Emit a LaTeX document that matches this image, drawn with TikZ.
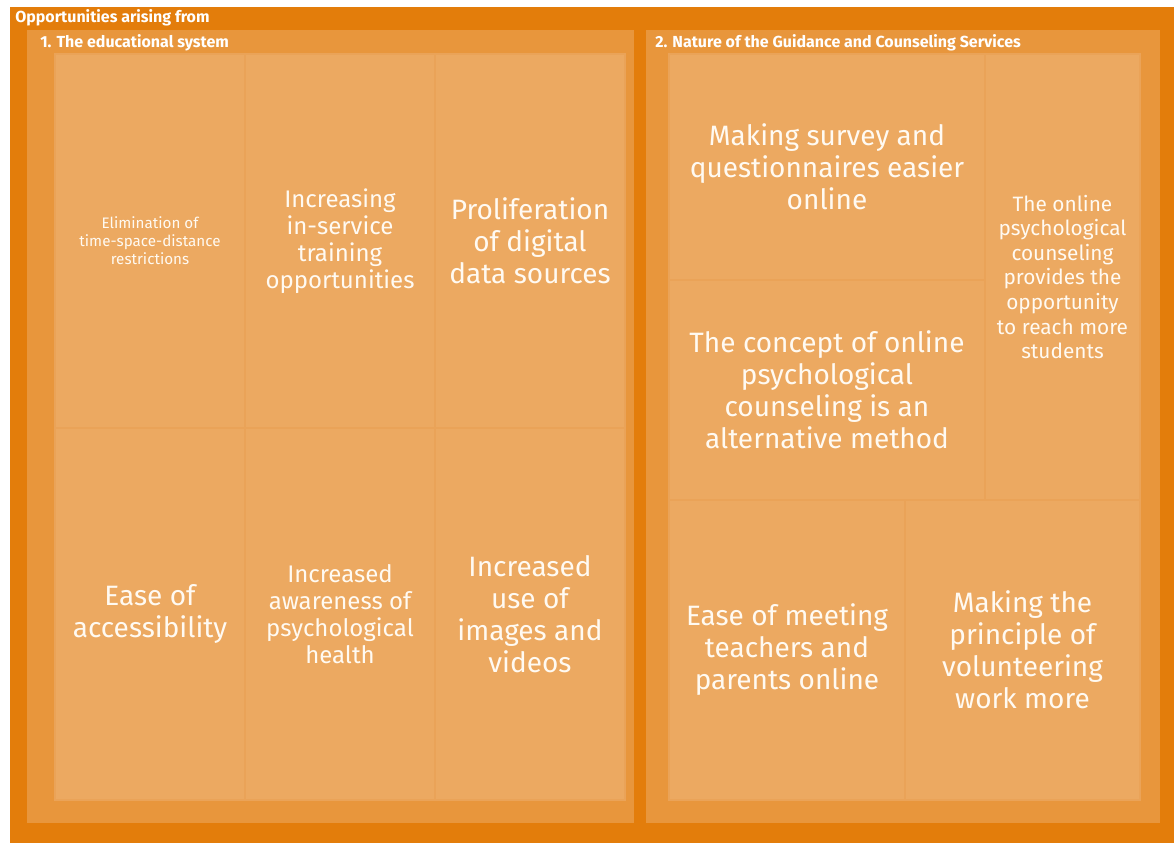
\documentclass[tikz,border=0pt]{standalone}
\usepackage{fontspec}
\setmainfont{Fira Sans}
\begin{document}
\begin{tikzpicture}[x=0.75pt,y=-0.75pt]
\definecolor{outerc}{HTML}{E37D0B}
\definecolor{groupc}{HTML}{E8963C}
\definecolor{cellc}{HTML}{ECA961}
\definecolor{celledge}{HTML}{EAA358}
\definecolor{txtc}{HTML}{FFFAF2}
\tikzset{
  box/.style={rectangle, inner sep=0pt, outer sep=0pt},
  cell/.style={box, fill=cellc, draw=celledge, line width=1pt, align=center, text=txtc},
  big/.style={font=\fontsize{21}{24}\selectfont},
  mid/.style={font=\fontsize{18}{20.3}\selectfont},
  midsmall/.style={font=\fontsize{15.6}{18.4}\selectfont},
  small/.style={font=\fontsize{11.4}{13.5}\selectfont},
  head/.style={anchor=west, text=white, inner sep=0pt, font=\bfseries\fontsize{12}{14}\selectfont}
}
\useasboundingbox (0,0) rectangle (1174,843);
\fill[white] (0,0) rectangle (1174,843);
% outer frame
\node[box, fill=outerc, minimum width=1164*0.75pt, minimum height=836*0.75pt] (outer) at (592,425) {};
\node[head] (t0) at (15,18) {Opportunities arising from};
% group boxes
\node[box, fill=groupc, minimum width=607*0.75pt, minimum height=793*0.75pt] (g1) at (330.5,426.5) {};
\node[box, fill=groupc, minimum width=514*0.75pt, minimum height=793*0.75pt] (g2) at (903,426.5) {};
\node[head] (t1) at (40,43) {1. The educational system};
\node[head] (t2) at (655,43) {2. Nature of the Guidance and Counseling Services};
% left cells
\node[cell, small, minimum width=190*0.75pt, minimum height=374*0.75pt] (c1) at (150,241) {Elimination of\\time-space-distance\\restrictions};
\node[cell, mid, minimum width=190*0.75pt, minimum height=374*0.75pt] (c2) at (340,241) {Increasing\\in-service\\training\\opportunities};
\node[cell, big, minimum width=190*0.75pt, minimum height=374*0.75pt] (c3) at (530,241) {Proliferation\\of digital\\data sources};
\node[cell, big, minimum width=190*0.75pt, minimum height=372*0.75pt] (c4) at (150,614) {Ease of\\accessibility};
\node[cell, mid, minimum width=190*0.75pt, minimum height=372*0.75pt] (c5) at (340,614) {Increased\\awareness of\\psychological\\health};
\node[cell, big, minimum width=190*0.75pt, minimum height=372*0.75pt] (c6) at (530,614) {Increased\\use of\\images and\\videos};
% right cells
\node[cell, big, minimum width=316*0.75pt, minimum height=226*0.75pt] (r1) at (827,167) {Making survey and\\questionnaires easier\\online};
\node[cell, big, minimum width=316*0.75pt, minimum height=220*0.75pt] (r3) at (827,390) {The concept of online\\psychological\\counseling is an\\alternative method};
\node[cell, midsmall, minimum width=155*0.75pt, minimum height=446*0.75pt] (r2) at (1062.5,277) {The online\\psychological\\counseling\\provides the\\opportunity\\to reach more\\students};
\node[cell, big, minimum width=236*0.75pt, minimum height=300*0.75pt] (r4) at (787,650) {Ease of meeting\\teachers and\\parents online};
\node[cell, big, minimum width=235*0.75pt, minimum height=300*0.75pt] (r5) at (1022.5,650) {Making the\\principle of\\volunteering\\work more};
\end{tikzpicture}
\end{document}
